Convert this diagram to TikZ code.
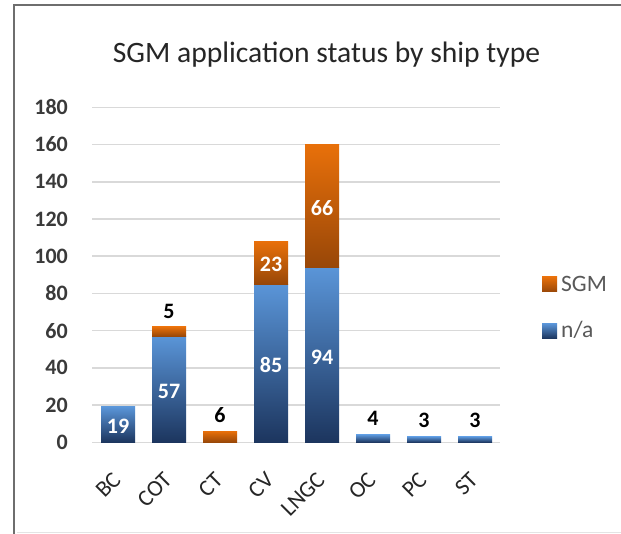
\documentclass[tikz,border=0pt]{standalone}
\usepackage{fontspec}
\setmainfont{Carlito}
\definecolor{frameC}{HTML}{6E6E6E}
\definecolor{gridC}{HTML}{D9D9D9}
\definecolor{axisTxt}{HTML}{3A3A3A}
\definecolor{naTop}{HTML}{5A95D8}
\definecolor{naBot}{HTML}{1C355E}
\definecolor{sgTop}{HTML}{E8700A}
\definecolor{sgBot}{HTML}{984708}
\definecolor{legTxt}{HTML}{595959}
\tikzset{
  nabar/.style={top color=naTop, bottom color=naBot},
  sgbar/.style={top color=sgTop, bottom color=sgBot},
  ylab/.style={anchor=east, inner sep=0pt, font=\fontsize{22}{22}\selectfont\bfseries, text=axisTxt},
  xlab/.style={anchor=east, inner sep=0pt, rotate=45, font=\fontsize{23}{23}\selectfont, text=black!85},
  inlab/.style={inner sep=0pt, font=\fontsize{22}{22}\selectfont\bfseries, text=white},
  toplab/.style={inner sep=0pt, font=\fontsize{22}{22}\selectfont\bfseries, text=black},
  legtxt/.style={anchor=base west, inner sep=0pt, font=\fontsize{23.5}{23.5}\selectfont, text=legTxt},
}
\newcommand{\Y}[1]{442.3-1.861*(#1)}
\begin{document}
\begin{tikzpicture}[x=1pt,y=-1pt]
\useasboundingbox (0,0) rectangle (621,534);
\fill[white] (0,0) rectangle (621,534);
% frame
\draw[frameC, line width=2pt] (14,534) -- (14,5) -- (621,5);
\draw[gridC!70, line width=1pt] (17,532.5) -- (621,532.5);
% title
\node[anchor=base, inner sep=0pt, font=\fontsize{29.6}{29.6}\selectfont, text=black!85] (title) at (326.5,62.5) {SGM application status by ship type};
% gridlines and y labels
\foreach \v in {0,20,...,180}{
  \draw[gridC, line width=1.5pt] (92,{\Y{\v}}) -- (500,{\Y{\v}});
  \node[ylab] (y\v) at (68,{\Y{\v}}) {\v};
}
% bars: index, na, sgm
\foreach \i/\na/\sg/\name in {0/19/0/BC,1/57/5/COT,2/0/6/CT,3/85/23/CV,4/94/66/LNGC,5/4/0/OC,6/3/0/PC,7/3/0/ST}{
  \pgfmathsetmacro{\c}{118+51*\i}
  \ifnum\na>0
    \shade[nabar] ({\c-17},{\Y{0}}) rectangle ({\c+17},{\Y{\na}});
  \fi
  \ifnum\sg>0
    \shade[sgbar] ({\c-17},{\Y{\na}}) rectangle ({\c+17},{\Y{\na+\sg}});
  \fi
  \node[xlab] (x\name) at ({\c-1},476) {\name};
}
% inside labels
\node[inlab] (l19) at (118,{\Y{9.5}+2}) {19};
\node[inlab] (l57) at (169,{\Y{28.5}+2}) {57};
\node[inlab] (l85) at (271,{\Y{42.5}+2}) {85};
\node[inlab] (l23) at (271,{\Y{96.5}+2}) {23};
\node[inlab] (l94) at (322,{\Y{47}+2}) {94};
\node[inlab] (l66) at (322,{\Y{127}+2}) {66};
% top labels
\node[toplab] (l5) at (169,{\Y{62}-15.5}) {5};
\node[toplab] (l6) at (220,{\Y{6}-16}) {6};
\node[toplab] (l4) at (373,{\Y{4}-16.5}) {4};
\node[toplab] (l3a) at (424,{\Y{3}-16.5}) {3};
\node[toplab] (l3b) at (475,{\Y{3}-16.5}) {3};
% legend
\shade[sgbar] (542,277) rectangle (557,292);
\node[legtxt] (legS) at (561,291.7) {SGM};
\shade[nabar] (542,323.5) rectangle (557,338.5);
\node[legtxt] (legN) at (561,338) {n/a};
\end{tikzpicture}
\end{document}
